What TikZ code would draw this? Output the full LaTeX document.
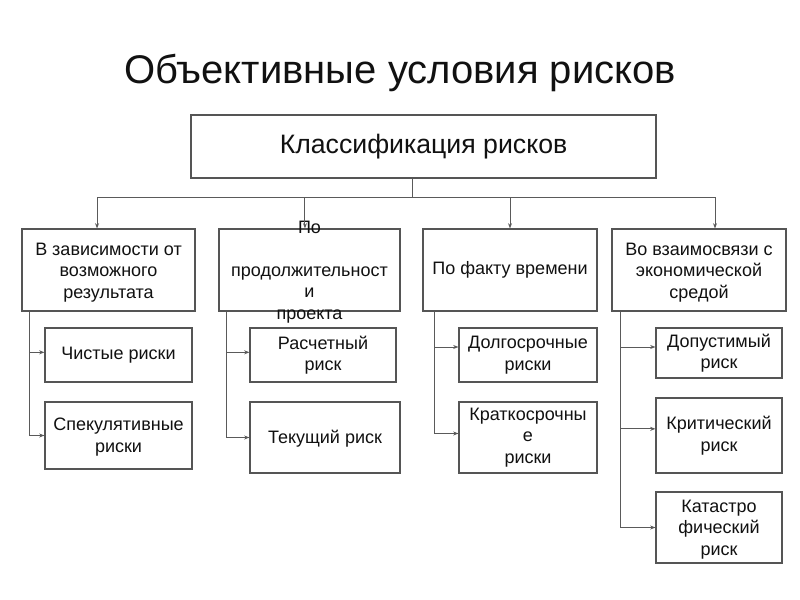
\documentclass[tikz,border=0pt]{standalone}
\usepackage{fontspec}
\setmainfont{Liberation Sans}
\usetikzlibrary{arrows.meta,fit}
\definecolor{boxc}{HTML}{555555}
\definecolor{linec}{HTML}{5A5A5A}
\definecolor{txtc}{HTML}{111111}
\begin{document}
\begin{tikzpicture}[x=0.75pt,y=-0.75pt,
  box/.style={draw=boxc, line width=0.8pt, inner sep=0pt},
  txt/.style={inner sep=0pt, align=center, text=txtc, font=\fontsize{13.5}{16.2}\selectfont},
  ln/.style={draw=linec, line width=0.75pt},
  arr/.style={ln, -{Stealth[length=4pt,width=3pt]}}]
\fill[white] (0,0) rectangle (800,600);
\useasboundingbox (0,0) rectangle (800,600);

\node[text=txtc, font=\fontsize{30}{36}\selectfont] (title) at (400,73) {Объективные условия рисков};

\node[box, fit={(191,115)(656,178)}] (top) {};
\node[txt, font=\fontsize{20}{24}\selectfont] (topt) at (top.center) {Классификация рисков};

\node[box, fit={(22,229)(195,311)}] (b1) {};
\node[txt] (b1t) at ([yshift=-2pt]b1.center) {В зависимости от\\возможного\\результата};
\node[box, fit={(219,229)(400,311)}] (b2) {};
\node[txt] (b2t) at (309.5,272) {По\\\mbox{}\\продолжительност\\и\\проекта};
\node[box, fit={(423,229)(597,311)}] (b3) {};
\node[txt] (b3t) at (b3.center) {По факту времени};
\node[box, fit={(612,229)(786,311)}] (b4) {};
\node[txt] (b4t) at ([yshift=-2pt]b4.center) {Во взаимосвязи с\\экономической\\средой};

\node[box, fit={(45,328)(192,382)}] (c11) {};
\node[txt] at (c11.center) {Чистые риски};
\node[box, fit={(45,402)(192,469)}] (c12) {};
\node[txt] at ([yshift=-1pt]c12.center) {Спекулятивные\\риски};
\node[box, fit={(250,328)(396,382)}] (c21) {};
\node[txt] at (c21.center) {Расчетный\\риск};
\node[box, fit={(250,402)(400,473)}] (c22) {};
\node[txt] at ([yshift=-1pt]c22.center) {Текущий риск};
\node[box, fit={(459,328)(597,382)}] (c31) {};
\node[txt] at (c31.center) {Долгосрочные\\риски};
\node[box, fit={(459,402)(597,473)}] (c32) {};
\node[txt] at (c32.center) {Краткосрочны\\е\\риски};
\node[box, fit={(656,328)(782,378)}] (c41) {};
\node[txt] at (c41.center) {Допустимый\\риск};
\node[box, fit={(656,398)(782,473)}] (c42) {};
\node[txt] at (c42.center) {Критический\\риск};
\node[box, fit={(656,492)(782,563)}] (c43) {};
\node[txt] at ([yshift=-1.5pt]c43.center) {Катастро\\фический\\риск};

\coordinate (j) at (412,197);
\draw[ln] (top.south -| j) -- (j);
\draw[arr] (j) -| ([xshift=-8.6pt]b1.north);
\draw[arr] (j) -| ([xshift=-3.4pt]b2.north);
\draw[arr] (j) -| (b3.north);
\draw[arr] (j) -| ([xshift=12pt]b4.north);

\draw[arr] ([xshift=6pt]b1.south west) |- ([yshift=2pt]c11.west);
\draw[arr] ([xshift=6pt]b1.south west) |- (c12.west);
\draw[arr] ([xshift=6pt]b2.south west) |- ([yshift=2pt]c21.west);
\draw[arr] ([xshift=6pt]b2.south west) |- (c22.west);
\draw[arr] ([xshift=9pt]b3.south west) |- ([yshift=6pt]c31.west);
\draw[arr] ([xshift=9pt]b3.south west) |- ([yshift=3pt]c32.west);
\draw[arr] ([xshift=6.75pt]b4.south west) |- ([yshift=4.5pt]c41.west);
\draw[arr] ([xshift=6.75pt]b4.south west) |- ([yshift=5pt]c42.west);
\draw[arr] ([xshift=6.75pt]b4.south west) |- (c43.west);
\end{tikzpicture}
\end{document}
